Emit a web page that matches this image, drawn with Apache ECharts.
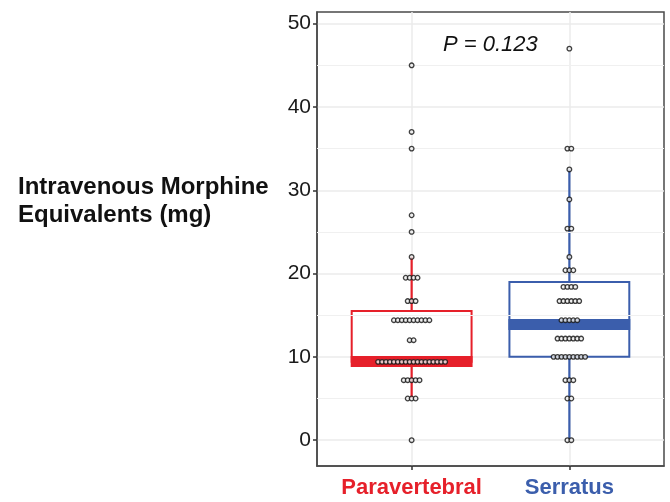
<!DOCTYPE html>
<html>
<head>
<meta charset="utf-8">
<script src="https://cdn.jsdelivr.net/npm/echarts@6/dist/echarts.min.js"></script>
<style>
  html, body { margin: 0; padding: 0; background: #fff; }
  #chart { width: 670px; height: 502px; }
</style>
</head>
<body>
<div id="chart"></div>
<script>
// groups and colours
const categories = ['Paravertebral', 'Serratus'];
const boxColors = ['#e6202a', '#3b5eac'];
// [lower whisker, Q1, median, Q3, upper whisker]
const boxStats = [
  [5, 9.4, 9.45, 15.5, 22],
  [0, 10, 13.9, 19, 32.5]
];
// dot plot: value levels and how many dots sit on each
const paraLevels = [0, 5, 7.2, 9.4, 12, 14.4, 16.7, 19.5, 22, 25, 27, 35, 37, 45];
const paraCounts = [1, 3, 5, 18, 2, 10, 3, 4, 1, 1, 1, 1, 1, 1];
const serLevels = [0, 5, 7.2, 10, 12.2, 14.4, 16.7, 18.4, 20.4, 22, 25.4, 28.9, 32.5, 35, 47];
const serCounts = [2, 2, 3, 9, 7, 5, 6, 4, 3, 1, 2, 1, 1, 2, 1];
const yTicks = [0, 10, 20, 30, 40, 50];
const yMinor = [5, 15, 25, 35, 45];
const xTicks = [1, 2];
const pLabel = 'P = 0.123';
const yTitle = 'Intravenous Morphine\nEquivalents (mg)';

const dotStep = 0.025;   // horizontal spacing of stacked dots, in x units
const boxHalf = 0.38;

function stackDots(group, levels, counts) {
  const pts = [];
  levels.forEach(function (v, i) {
    const n = counts[i];
    for (let k = 0; k < n; k++) {
      pts.push([group + (k - (n - 1) / 2) * dotStep, v]);
    }
  });
  return pts;
}

const chart = echarts.init(document.getElementById('chart'));

chart.setOption({
  animation: false,
  grid: {
    left: 317, top: 12, right: 6, bottom: 36,
    show: true, borderColor: '#4a4a4a', borderWidth: 1.5, backgroundColor: '#fff'
  },
  xAxis: {
    type: 'value', min: 0.4, max: 2.6,
    axisLine: { show: true, onZero: false, lineStyle: { color: '#4a4a4a', width: 1.5 } },
    axisTick: { show: true, customValues: xTicks, length: 4, lineStyle: { color: '#333', width: 1.5 } },
    splitLine: { show: true, lineStyle: { color: '#ebebeb', width: 1.5 } },
    axisLabel: {
      customValues: xTicks, margin: 11,
      formatter: function (v) { return '{c' + (v - 1) + '|' + categories[v - 1] + '}'; },
      rich: {
        c0: { color: boxColors[0], fontSize: 22, fontWeight: 'bold', fontFamily: 'Liberation Sans' },
        c1: { color: boxColors[1], fontSize: 22, fontWeight: 'bold', fontFamily: 'Liberation Sans' }
      }
    }
  },
  yAxis: {
    type: 'value', min: -3.1, max: 51.4,
    axisLine: { show: true, onZero: false, lineStyle: { color: '#4a4a4a', width: 1.5 } },
    axisTick: { show: true, customValues: yTicks, length: 4, lineStyle: { color: '#333', width: 1.5 } },
    splitLine: { show: true, lineStyle: { color: '#ebebeb', width: 1.5 } },
    axisLabel: {
      customValues: yTicks, margin: 6,
      color: '#1a1a1a', fontSize: 21, fontFamily: 'Liberation Sans'
    }
  },
  graphic: [
    {
      type: 'text', left: 18, top: 173,
      style: { text: yTitle, font: 'bold 24px "Liberation Sans"', lineHeight: 28, fill: '#111' }
    },
    {
      type: 'text', left: 443, top: 34,
      style: { text: pLabel, font: 'italic 22px "Liberation Sans"', fill: '#111' }
    }
  ],
  series: [
    {
      type: 'custom',
      silent: true,
      z: 2,
      data: boxStats.map(function (s, i) { return [i + 1].concat(s); }),
      encode: { x: 0, y: [1, 2, 3, 4, 5] },
      markLine: {
        silent: true, symbol: 'none', label: { show: false },
        lineStyle: { color: '#f0f0f0', width: 1, type: 'solid' },
        data: yMinor.map(function (v) { return { yAxis: v }; })
      },
      renderItem: function (params, api) {
        const g = api.value(0);
        const color = boxColors[g - 1];
        const pLow = api.coord([g, api.value(1)]);
        const pQ1 = api.coord([g, api.value(2)]);
        const pMed = api.coord([g, api.value(3)]);
        const pQ3 = api.coord([g, api.value(4)]);
        const pHigh = api.coord([g, api.value(5)]);
        const hw = api.size([boxHalf, 0])[0];
        const line = { stroke: color, lineWidth: 2.2 };
        return {
          type: 'group',
          children: [
            { type: 'line', shape: { x1: pHigh[0], y1: pHigh[1], x2: pQ3[0], y2: pQ3[1] }, style: line },
            { type: 'line', shape: { x1: pQ1[0], y1: pQ1[1], x2: pLow[0], y2: pLow[1] }, style: line },
            {
              type: 'rect',
              shape: { x: pQ3[0] - hw, y: pQ3[1], width: hw * 2, height: pQ1[1] - pQ3[1] },
              style: { fill: '#fff', stroke: color, lineWidth: 2 }
            },
            {
              type: 'rect',
              shape: { x: pMed[0] - hw - 1, y: pMed[1] - 5.5, width: hw * 2 + 2, height: 11 },
              style: { fill: color }
            }
          ]
        };
      }
    },
    {
      type: 'scatter', z: 5, silent: true,
      symbolSize: 4.6,
      itemStyle: { color: '#eeeeee', borderColor: '#111', borderWidth: 1.3 },
      data: stackDots(1, paraLevels, paraCounts)
    },
    {
      type: 'scatter', z: 5, silent: true,
      symbolSize: 4.6,
      itemStyle: { color: '#eeeeee', borderColor: '#111', borderWidth: 1.3 },
      data: stackDots(2, serLevels, serCounts)
    }
  ]
});
</script>
</body>
</html>
